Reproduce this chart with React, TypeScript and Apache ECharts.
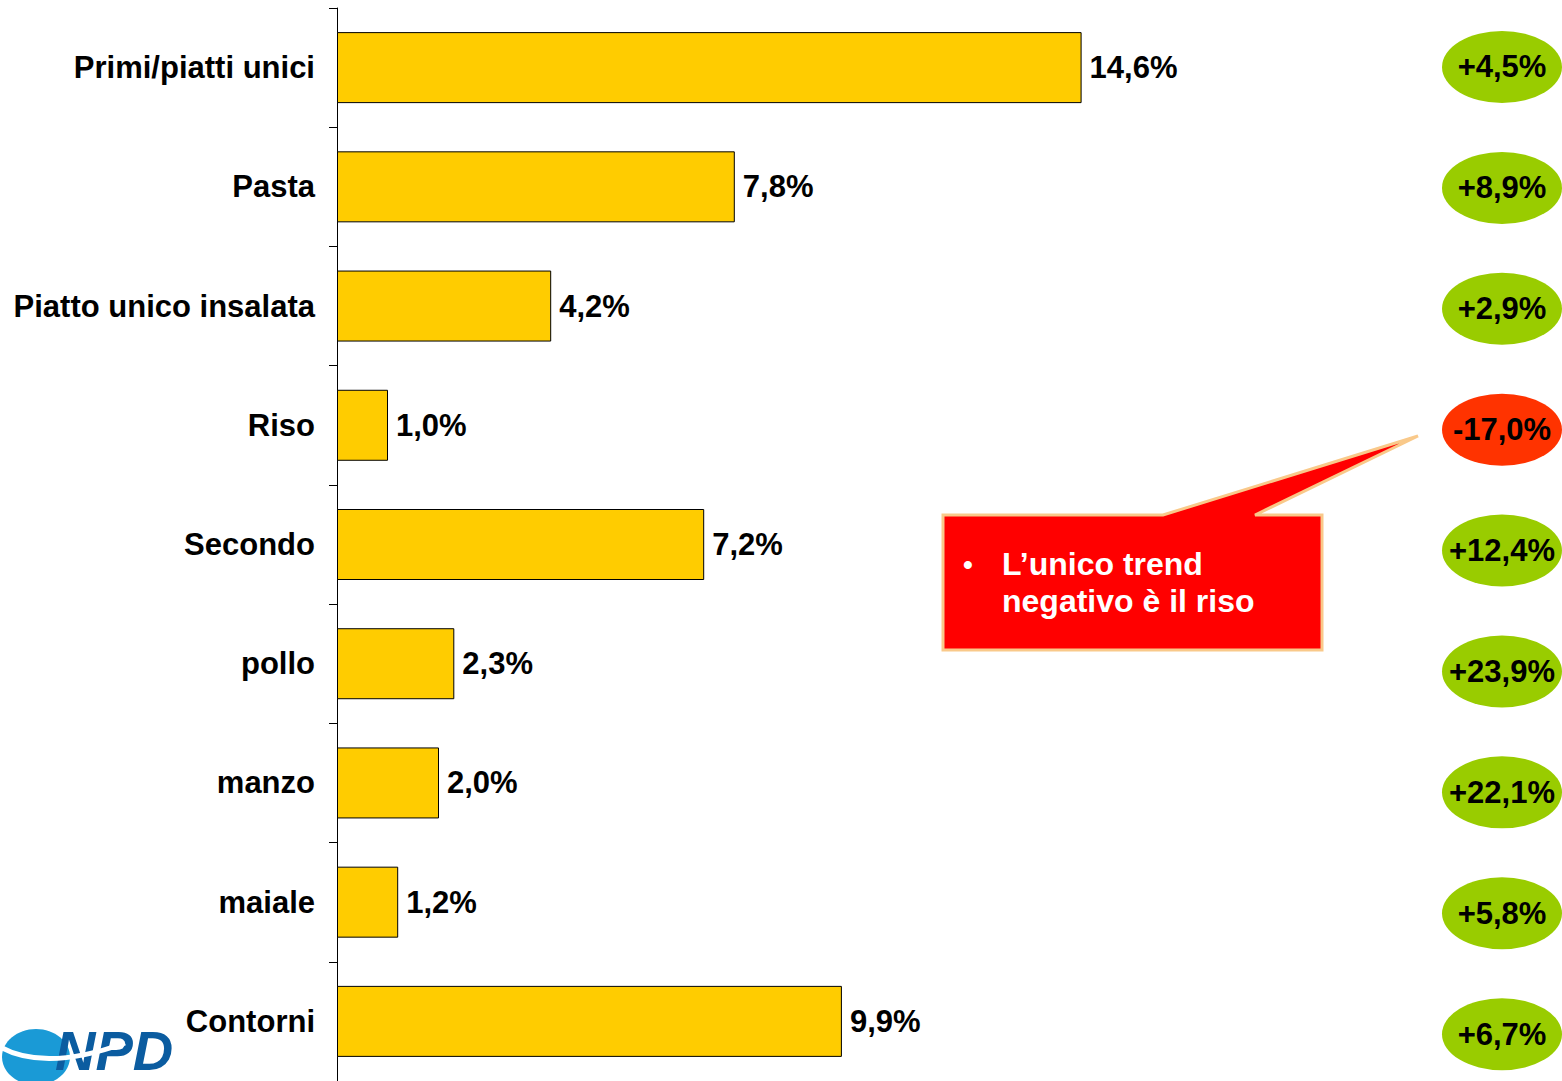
import React, { useEffect, useRef } from 'react';
import * as echarts from 'echarts';

const categories = ['Primi/piatti unici', 'Pasta', 'Piatto unico insalata', 'Riso', 'Secondo', 'pollo', 'manzo', 'maiale', 'Contorni'];
const shares = [14.6, 7.8, 4.2, 1.0, 7.2, 2.3, 2.0, 1.2, 9.9];
const trends = [4.5, 8.9, 2.9, -17.0, 12.4, 23.9, 22.1, 5.8, 6.7];
const calloutLines = ['L\u2019unico trend', 'negativo \u00e8 il riso'];

const FONT = '"Liberation Sans", Arial, sans-serif';
const fmt = (v: number) => v.toFixed(1).replace('.', ',') + '%';
const fmtSigned = (v: number) => (v > 0 ? '+' : '') + fmt(v);

export default function App() {
  const ref = useRef<HTMLDivElement>(null);
  useEffect(() => {
    document.body.style.margin = '0';
    const chart = echarts.init(ref.current!, null, { renderer: 'svg' });
    const option: any = {
      animation: false,
      backgroundColor: '#fff',
      grid: [
        { left: 337, top: 8, width: 1020, height: 1073 },
        { left: 1442, top: 6.55, width: 120, height: 1074.4 },
      ],
      xAxis: [
        { gridIndex: 0, type: 'value', min: 0, max: 20, show: false },
        { gridIndex: 1, type: 'value', min: 0, max: 1, show: false },
      ],
      yAxis: [
        {
          gridIndex: 0,
          type: 'category',
          data: categories,
          inverse: true,
          axisLine: { show: true, lineStyle: { color: '#000', width: 1 } },
          axisTick: { show: true, length: 8, lineStyle: { color: '#000', width: 1 } },
          axisLabel: { fontSize: 31, fontWeight: 'bold', color: '#000', margin: 22, fontFamily: FONT },
          splitLine: { show: false },
        },
        { gridIndex: 1, type: 'value', min: -0.5, max: 8.387, inverse: true, show: false, splitLine: { show: false } },
      ],
      series: [
        {
          type: 'bar',
          xAxisIndex: 0,
          yAxisIndex: 0,
          data: shares,
          barWidth: 71,
          itemStyle: { color: '#ffcc00', borderColor: '#000', borderWidth: 1 },
          label: {
            show: true,
            position: 'right',
            distance: 8,
            fontSize: 31,
            fontWeight: 'bold',
            color: '#000',
            fontFamily: FONT,
            formatter: (p: any) => fmt(p.value),
          },
        },
        {
          type: 'scatter',
          xAxisIndex: 1,
          yAxisIndex: 1,
          symbol: 'path://M0,50 A50,50 0 1,1 100,50 A50,50 0 1,1 0,50 Z',
          symbolSize: [120, 72],
          data: trends.map((t, i) => ({
            value: [0.5, i],
            trend: t,
            itemStyle: { color: t < 0 ? '#ff3300' : '#99cc00', opacity: 1 },
          })),
          label: {
            show: true,
            position: 'inside',
            fontSize: 31,
            fontWeight: 'bold',
            color: '#000',
            fontFamily: FONT,
            formatter: (p: any) => fmtSigned(p.data.trend),
          },
        },
      ],
      graphic: [
        {
          type: 'polygon',
          shape: {
            points: [
              [943, 515], [1163, 515], [1418, 436], [1255, 515],
              [1322, 515], [1322, 650], [943, 650],
            ],
          },
          style: { fill: '#ff0000', stroke: '#f9c98a', lineWidth: 3 },
        },
        {
          type: 'text',
          x: 963,
          y: 564,
          style: { text: '\u2022', fill: '#fff', font: `bold 28px ${FONT}`, textVerticalAlign: 'middle', verticalAlign: 'middle' },
        },
        {
          type: 'text',
          x: 1002,
          y: 564,
          style: { text: calloutLines[0], fill: '#fff', font: `bold 32px ${FONT}`, textVerticalAlign: 'middle', verticalAlign: 'middle' },
        },
        {
          type: 'text',
          x: 1002,
          y: 601,
          style: { text: calloutLines[1], fill: '#fff', font: `bold 32px ${FONT}`, textVerticalAlign: 'middle', verticalAlign: 'middle' },
        },
        {
          type: 'ellipse',
          shape: { cx: 36, cy: 1057, rx: 34, ry: 28 },
          style: { fill: '#1a9ad6' },
        },
        {
          type: 'text',
          x: 55,
          y: 1050,
          style: { text: 'NPD', fill: '#0b5ca0', font: `italic bold 56px ${FONT}`, textVerticalAlign: 'middle', verticalAlign: 'middle' },
        },
        {
          type: 'bezierCurve',
          shape: { x1: 0, y1: 1047, cpx1: 45, cpy1: 1072, x2: 125, y2: 1043 },
          style: { stroke: '#fff', lineWidth: 5, fill: 'none' },
        },
      ],
    };
    chart.setOption(option);
    return () => chart.dispose();
  }, []);
  return <div ref={ref} style={{ width: 1562, height: 1081 }} />;
}
